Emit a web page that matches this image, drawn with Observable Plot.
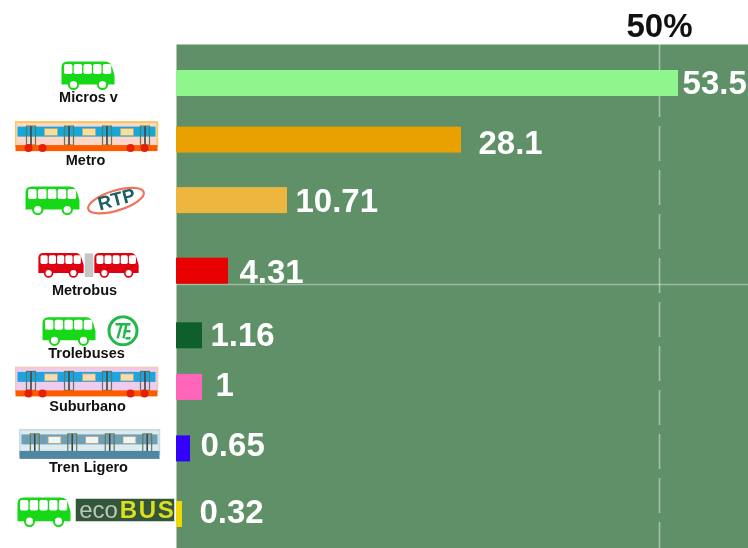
<!DOCTYPE html>
<html>
<head>
<meta charset="utf-8">
<script src="https://cdn.jsdelivr.net/npm/d3@7"></script>
<script src="https://cdn.jsdelivr.net/npm/@observablehq/plot@0.6"></script>
<style>
html,body{margin:0;padding:0;background:#fff;overflow:hidden}
#chart svg{display:block;filter:blur(.45px)}
.spaced text{letter-spacing:1.6px}
</style>
</head>
<body>
<div id="chart"></div>
<script>
// ---- data ----
const categories = ["Micros v","Metro","RTP","Metrobus","Trolebuses","Suburbano","Tren Ligero","ecoBus"];
const valueLabels = ["53.5","28.1","10.71","4.31","1.16","1","0.65","0.32"];
// bar lengths as drawn, read against the 50% reference line
const barLengths = [51.97,29.5,11.49,5.38,2.69,2.69,1.45,0.62];
const captions = ["Micros v","Metro","","Metrobus","Trolebuses","Suburbano","Tren Ligero",""];
const referenceValue = [50];

// ---- styling ----
const barColors = ["#8ff58d","#e9a100","#ecb63f","#e90000","#0f5f2b","#ff66bb","#3300ff","#f0d800"];
const panel = "#5f9067";
const rowNudge = [-2,-6.4,-6.9,2.7,6.3,-3.1,-2.6,2];
const labelGap = [4,17,8,11,8,13,10,17];
const labelNudge = [0,3,1,1,0,-2,-3,-2];
const captionDx = [-88,-91,0,-92,-90,-89,-88,0];
const captionDy = [14,20,0,19,18,19,18,0];

const uri = s => "data:image/svg+xml;utf8," + encodeURIComponent(s);
const svg = (w,h,b) => `<svg xmlns="http://www.w3.org/2000/svg" viewBox="0 0 ${w} ${h}" width="${w}" height="${h}">${b}</svg>`;
const bus = c => {
  let win = "";
  for (let i=0;i<5;i++) win += `<rect x="${3.5+i*9.7}" y="3.5" width="8.4" height="10" rx="1.8" fill="#fff"/>`;
  return uri(svg(55,30,`<path d="M1 7 Q1 1 7 1 H45 Q50 1 52 8 L54 15 V24 H1 Z" fill="${c}"/>${win}<circle cx="13" cy="24" r="4.6" fill="#fff" stroke="${c}" stroke-width="2"/><circle cx="42" cy="24" r="4.6" fill="#fff" stroke="${c}" stroke-width="2"/>`));
};
const train = (body,band,win,under,edge) => {
  let d = "", w = "";
  for (let i=0;i<4;i++) d += `<rect x="${12+i*38}" y="5" width="9" height="19" fill="none" stroke="#5d7a58" stroke-width="1.2"/><rect x="${15.7+i*38}" y="5" width="1.6" height="19" fill="#444"/>`;
  for (let i=0;i<3;i++) w += `<rect x="${30+i*38}" y="7.5" width="13" height="7" fill="${win}" stroke="#b8a878" stroke-width=".8"/>`;
  const u = under==="none" ? `<rect x="1" y="22" width="142" height="8" fill="#4f87a3"/>` :
    `<rect x="1" y="24" width="142" height="6" fill="${under}"/><circle cx="14" cy="27" r="4" fill="#e42000"/><circle cx="28" cy="27" r="4" fill="#e42000"/><circle cx="116" cy="27" r="4" fill="#e42000"/><circle cx="130" cy="27" r="4" fill="#e42000"/>`;
  return uri(svg(144,32,`<rect x="1" y="1" width="142" height="24" fill="${body}" stroke="${edge}" stroke-width="2"/><rect x="3" y="5.5" width="138" height="10" fill="${band}"/>${w}${d}${u}`));
};
const joint = uri(svg(9,24,`<rect width="9" height="24" fill="#c6c6c6"/>`));
const rtp = uri(svg(62,32,`<ellipse cx="31" cy="16" rx="29" ry="10" fill="#fff" stroke="#f0735a" stroke-width="2.2" transform="rotate(-17 31 16)"/>`));
const trolley = uri(svg(33,31,`<circle cx="16.5" cy="15.5" r="14" fill="#fff" stroke="#22b84a" stroke-width="3"/><path d="M9 9 H24 M15 9 L11 23 M20 9 L17 23 M17 16 H24 M19 23 H24" stroke="#22b84a" stroke-width="2.4" fill="none"/>`));
const ecoPlate = uri(svg(99,23,`<rect width="99" height="23" fill="#33553a"/>`));
const gBus = bus("#16d816"), rBus = bus("#df0010");

const icons = [
  {row:0,src:gBus,dx:-88.5,dy:-8,w:55,h:30},
  {row:1,src:train("#fcd6c8","#15a8d8","#f6e0a0","#ff5a00","#fbc75c"),dx:-90,dy:-3,w:144,h:32},
  {row:2,src:gBus,dx:-124,dy:0,w:56,h:30},
  {row:2,src:rtp,dx:-60.5,dy:0,w:62,h:32},
  {row:3,src:rBus,dx:-115.5,dy:-6,w:47,h:26},
  {row:3,src:joint,dx:-87.5,dy:-6,w:9,h:24},
  {row:3,src:rBus,dx:-60,dy:-6,w:46,h:26},
  {row:4,src:gBus,dx:-107.5,dy:-4.5,w:55,h:30},
  {row:4,src:trolley,dx:-53.5,dy:-5,w:33,h:31},
  {row:5,src:train("#eccdf0","#1fa4e0","#f8dcb0","#ff5a00","#f4c8b8"),dx:-90,dy:-5,w:144,h:32},
  {row:6,src:train("#dcebf0","#6f9fb5","#eef5f8","none","#c9dce6"),dx:-87,dy:-4,w:142,h:32},
  {row:7,src:gBus,dx:-132.5,dy:-2.5,w:55,h:31},
  {row:7,src:ecoPlate,dx:-51.5,dy:-4.5,w:99,h:23}
];

const rows = categories.map((c,i)=>({c,i}));
const font = "Liberation Sans, Arial, sans-serif";

const marks = [
  Plot.frame({fill:panel, stroke:null}),
  Plot.ruleX(referenceValue,{stroke:"#fff",strokeOpacity:0.42,strokeWidth:1.6,strokeDasharray:"35,9",strokeDashoffset:6}),
  Plot.ruleY([categories[3]],{y:d=>d,dy:16,stroke:"#fff",strokeOpacity:0.4,strokeWidth:1.3}),
  ...rows.flatMap(({c,i})=>[
    Plot.barX([barLengths[i]],{x:d=>d,y:()=>c,fill:barColors[i],dy:rowNudge[i]}),
    Plot.text([valueLabels[i]],{text:d=>d,x:()=>barLengths[i],y:()=>c,dx:labelGap[i],dy:rowNudge[i]+labelNudge[i],
      textAnchor:"start",fill:"#fff",fontSize:33,fontWeight:"bold",fontFamily:font}),
    ...(captions[i]?[Plot.text([captions[i]],{text:d=>d,x:()=>0,y:()=>c,dx:captionDx[i],dy:rowNudge[i]+captionDy[i],
      fill:"#111",fontSize:14.5,fontWeight:"bold",fontFamily:font})]:[])
  ]),
  ...icons.map(k=>Plot.image([k],{x:()=>0,y:()=>categories[k.row],src:d=>d.src,width:k.w,height:k.h,
    dx:k.dx,dy:rowNudge[k.row]+k.dy,preserveAspectRatio:"none"})),
  // logos' lettering as real text
  Plot.text(["RTP"],{text:d=>d,x:()=>0,y:()=>categories[2],dx:-60,dy:rowNudge[2]-1,rotate:-15,fill:"#1d5e62",
    fontSize:19,fontWeight:"bold",fontFamily:font}),
  Plot.text(["eco"],{text:d=>d,x:()=>0,y:()=>categories[7],dx:-78,dy:rowNudge[7]-4.5,fill:"#b8c8b8",fontSize:24,fontFamily:font}),
  Plot.text(["BUS"],{text:d=>d,x:()=>0,y:()=>categories[7],dx:-29,dy:rowNudge[7]-4.5,fill:"#dede20",fontSize:24,fontWeight:"bold",
    fontFamily:font,className:"spaced"})
];

const chart = Plot.plot({
  width:748, height:548,
  marginLeft:176, marginRight:0, marginTop:44, marginBottom:0,
  style:{background:"#fff",overflow:"visible"},
  x:{domain:[0,59.21],ticks:referenceValue,tickFormat:d=>d+"%",axis:null},
  y:{type:"band",domain:categories,range:[52.3,543.7],paddingInner:0.58,paddingOuter:0.29,axis:null},
  marks:[
    ...marks,
    Plot.axisX(referenceValue,{anchor:"top",tickSize:0,tickPadding:0,dy:-8,label:null,tickFormat:d=>d+"%",fontSize:33,fontWeight:"bold",fontFamily:font,fill:"#111"})
  ]
});
document.getElementById("chart").appendChild(chart);
</script>
</body>
</html>
